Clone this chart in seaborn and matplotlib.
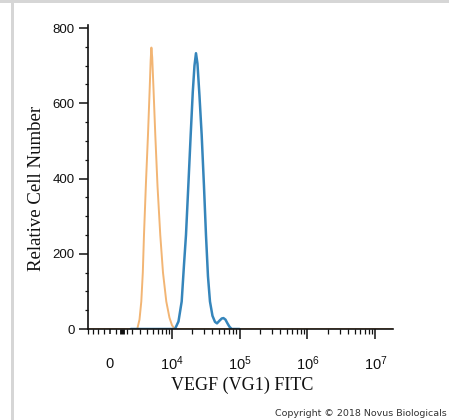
import numpy as np
import pandas as pd
import matplotlib
matplotlib.use('Agg')
import matplotlib.pyplot as plt
import matplotlib.transforms as mtransforms
from matplotlib.patches import Rectangle
import seaborn as sns

sns.set_style('ticks')
plt.rcParams['font.family'] = ['Liberation Sans', 'DejaVu Sans']

##############################################################################
# histogram data (FITC fluorescence, cell count)

# isotype control - orange
ctrl_x = [-2030, 1500, 2640, 2920, 3160, 3370, 3540, 3840, 4160, 4450, 4620,
          4750, 4900, 5140, 5500, 5970, 6600, 7280, 8190, 9160, 10000, 10990,
          1.81e7]
ctrl_y = [0, 0, 0, 25, 73, 150, 250, 390, 516, 640, 715,
          748, 722, 640, 516, 380, 250, 150, 73, 30, 10, 0,
          0]

# VEGF (VG1) stained - blue
vegf_x = [1900, 11100, 12530, 13990, 15140, 16220, 17670, 19050, 20460, 21680,
          22820, 24010, 25700, 27700, 29950, 32060, 34310, 36720, 39980, 43520,
          46580, 50680, 54790, 58050, 62100, 66450, 71130, 76630, 100000]
vegf_y = [0, 0, 20, 73, 170, 250, 390, 516, 630, 700,
          733, 705, 620, 516, 380, 250, 140, 73, 35, 19,
          15, 22, 28, 29, 25, 15, 6, 0, 0]

x_major = [0, 1e4, 1e5, 1e6, 1e7]
x_labels = [r'$\mathregular{0}$', r'$\mathregular{10^{4}}$',
            r'$\mathregular{10^{5}}$', r'$\mathregular{10^{6}}$',
            r'$\mathregular{10^{7}}$']
y_major = [0, 200, 400, 600, 800]

##############################################################################
fig = plt.figure(figsize=(4.49, 4.20), dpi=100)
W, H = 449, 420

# grey frame of the original screenshot
fig.add_artist(Rectangle((0, 1 - 3 / H), 1, 3 / H, transform=fig.transFigure,
                         color='#d6d6d6', lw=0))
fig.add_artist(Rectangle((11 / W, 0), 3 / W, 1, transform=fig.transFigure,
                         color='#d6d6d6', lw=0))

ax = fig.add_axes([88 / W, 1 - 329 / H, 305 / W, 304 / H])

sns.lineplot(x=ctrl_x, y=ctrl_y, color='#f2b574', lw=1.4, ax=ax,
             sort=False, estimator=None)
sns.lineplot(x=vegf_x, y=vegf_y, color='#3585bb', lw=1.8, ax=ax,
             sort=False, estimator=None)

ax.set_xscale('asinh', linear_width=2488)
ax.set_xlim(-2030, 1.81e7)
ax.set_ylim(0, 808)

# x ticks: linear part near zero, log minors above
minor_x = [v for v in range(-2000, 2000, 500)]
for d in [1e3, 1e4, 1e5, 1e6]:
    minor_x += [k * d for k in range(2, 10) if k * d > 1500]
ax.set_xticks(x_major)
ax.set_xticklabels(x_labels)
ax.set_xticks(minor_x, minor=True)
ax.set_yticks(y_major)
ax.set_yticks(np.arange(0, 801, 50), minor=True)

ax.tick_params(axis='x', which='major', direction='out', length=7, width=1.1,
               pad=11.5, labelsize=10.5, colors='#111111')
ax.tick_params(axis='x', which='minor', direction='out', length=3.5, width=0.9,
               colors='#111111')
ax.tick_params(axis='y', which='major', direction='out', length=6.5, width=1.1,
               pad=3, labelsize=9.5, colors='#111111')
ax.tick_params(axis='y', which='minor', direction='out', length=2.5, width=0.9,
               colors='#111111')
zero_tick = ax.xaxis.get_major_ticks()[0]
zero_tick.tick1line.set_markersize(3.5)
# drop the "0" so it sits on the same baseline as the 10^n labels
zero_tick.label1.set_transform(zero_tick.label1.get_transform() +
                               mtransforms.ScaledTranslation(0, -1.5 / 72, fig.dpi_scale_trans))
# the odd thick mark just right of zero
ax.xaxis.get_minor_ticks()[5].tick1line.set_markeredgewidth(3.5)

for s in ['top', 'right']:
    ax.spines[s].set_visible(False)
for s in ['left', 'bottom']:
    ax.spines[s].set_linewidth(1.2)
    ax.spines[s].set_color('#111111')

ax.set_xlabel('VEGF (VG1) FITC', family='Liberation Serif', fontsize=13,
              color='#111111')
ax.set_ylabel('Relative Cell Number', family='Liberation Serif', fontsize=13.5,
              color='#111111')
ax.xaxis.set_label_coords(0.507, -0.158)
ax.yaxis.set_label_coords(-0.141, 0.462)

fig.text(0.996, 1 - 413 / H, 'Copyright \u00a9 2018 Novus Biologicals',
         ha='right', va='center', fontsize=6.8, color='#333333',
         family='DejaVu Sans')

plt.savefig('out.png', dpi=100)
